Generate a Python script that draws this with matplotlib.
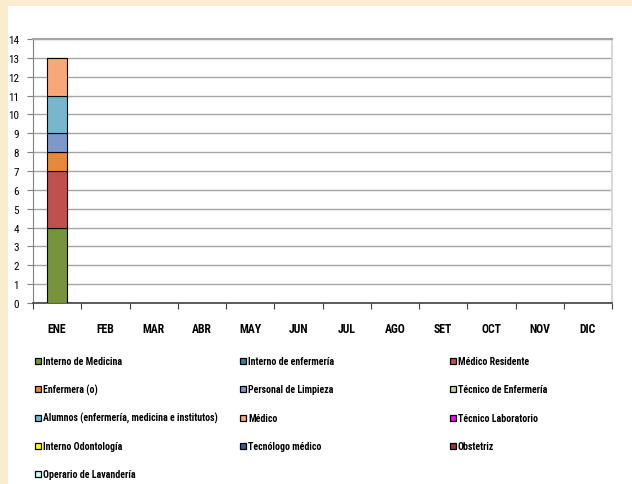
import numpy as np
import matplotlib.pyplot as plt
from matplotlib import font_manager
from matplotlib.patches import Rectangle

# -----------------------------
# data
# -----------------------------
months = ["ENE", "FEB", "MAR", "ABR", "MAY", "JUN", "JUL", "AGO", "SET", "OCT", "NOV", "DIC"]

categories = [
    "Interno de Medicina", "Interno de enfermería", "Médico Residente",
    "Enfermera (o)", "Personal de Limpieza", "Técnico de Enfermería",
    "Alumnos (enfermería, medicina e institutos)", "Médico", "Técnico Laboratorio",
    "Interno Odontología", "Tecnólogo médico", "Obstetriz",
    "Operario de Lavandería",
]

# one list per category, Jan..Dec
interno_medicina = [4, 0, 0, 0, 0, 0, 0, 0, 0, 0, 0, 0]
interno_enfermeria = [0, 0, 0, 0, 0, 0, 0, 0, 0, 0, 0, 0]
medico_residente = [3, 0, 0, 0, 0, 0, 0, 0, 0, 0, 0, 0]
enfermera = [1, 0, 0, 0, 0, 0, 0, 0, 0, 0, 0, 0]
personal_limpieza = [1, 0, 0, 0, 0, 0, 0, 0, 0, 0, 0, 0]
tecnico_enfermeria = [0, 0, 0, 0, 0, 0, 0, 0, 0, 0, 0, 0]
alumnos = [2, 0, 0, 0, 0, 0, 0, 0, 0, 0, 0, 0]
medico = [2, 0, 0, 0, 0, 0, 0, 0, 0, 0, 0, 0]
tecnico_laboratorio = [0, 0, 0, 0, 0, 0, 0, 0, 0, 0, 0, 0]
interno_odontologia = [0, 0, 0, 0, 0, 0, 0, 0, 0, 0, 0, 0]
tecnologo_medico = [0, 0, 0, 0, 0, 0, 0, 0, 0, 0, 0, 0]
obstetriz = [0, 0, 0, 0, 0, 0, 0, 0, 0, 0, 0, 0]
operario_lavanderia = [0, 0, 0, 0, 0, 0, 0, 0, 0, 0, 0, 0]

series = [
    interno_medicina, interno_enfermeria, medico_residente,
    enfermera, personal_limpieza, tecnico_enfermeria,
    alumnos, medico, tecnico_laboratorio,
    interno_odontologia, tecnologo_medico, obstetriz,
    operario_lavanderia,
]

colors = [
    "#77933C", "#31849B", "#C0504D",
    "#E8893A", "#7F98CC", "#C3D69B",
    "#78B6CE", "#F8A878", "#FF00FF",
    "#FFFF00", "#2F5F95", "#953735",
    "#CCFFFF",
]

y_ticks = list(range(0, 15))

# pick a narrow font if one is installed
installed = {f.name for f in font_manager.fontManager.ttflist}
narrow = None
for name in ["Liberation Sans Narrow", "DejaVu Sans Condensed", "Roboto Condensed"]:
    if name in installed:
        narrow = name
        break
if narrow is None:
    narrow = "Liberation Sans"
    scale = 0.86
else:
    scale = 1.0
font = [narrow, "DejaVu Sans"]

# -----------------------------
# figure
# -----------------------------
W, H = 632, 485
fig = plt.figure(figsize=(W / 100, H / 100), dpi=100, facecolor="#FBEBCF")
# white panel over the beige background
fig.patches.append(Rectangle((8 / W, 0), 1 - 8 / W, 1 - 7 / H, transform=fig.transFigure,
                             facecolor="white", edgecolor="none", zorder=-5))

ax = fig.add_axes([33 / W, 1 - 304 / H, (612 - 33) / W, (304 - 40) / H])
ax.set_facecolor("white")

x = np.arange(len(months))
bottom = np.zeros(len(months))
for vals, col in zip(series, colors):
    vals = np.array(vals, dtype=float)
    lws = [0.8 if v > 0 else 0 for v in vals]
    ax.bar(x, vals, width=0.42, bottom=bottom, color=col, edgecolor="black",
           linewidth=lws, zorder=3)
    bottom += vals

ax.set_xlim(-0.5, len(months) - 0.5)
ax.set_ylim(0, 14)
ax.set_yticks(y_ticks)
ax.set_yticklabels([str(t) for t in y_ticks], family=font, fontsize=8 * scale)

ax.set_xticks(x)
ax.set_xticklabels(months, family=font, fontsize=8.5 * scale, fontweight="bold")
ax.set_xticks(np.arange(-0.5, len(months)), minor=True)
ax.tick_params(axis="x", which="major", length=0, pad=14)
ax.tick_params(axis="x", which="minor", length=4, width=0.8, color="#404040", direction="out")
ax.tick_params(axis="y", length=4, width=0.8, color="#808080", pad=6)

ax.grid(axis="y", color="#A6A6A6", linewidth=1, zorder=0)
ax.set_axisbelow(True)
ax.spines["top"].set_color("#A6A6A6")
ax.spines["top"].set_linewidth(1.5)
ax.spines["right"].set_color("#D9D9D9")
ax.spines["right"].set_linewidth(1.5)
ax.spines["left"].set_color("#808080")
ax.spines["bottom"].set_color("#404040")
ax.spines["bottom"].set_linewidth(1.2)

# -----------------------------
# legend: entries laid out row-wise in three columns
# -----------------------------
col_x = [35, 240, 450]   # left edge of the colour box, px
row_y0, row_dy = 362, 28.3
box = 6
for i, (lab, col) in enumerate(zip(categories, colors)):
    r, c = divmod(i, 3)
    cx = col_x[c]
    cy = row_y0 + r * row_dy
    fig.patches.append(Rectangle((cx / W, 1 - (cy + box / 2) / H), box / W, box / H,
                                 transform=fig.transFigure, facecolor=col,
                                 edgecolor="black", linewidth=0.9))
    fig.text((cx + box + 2) / W, 1 - cy / H, lab, family=font, fontsize=7.1 * scale,
             fontweight="bold", ha="left", va="center")

fig.savefig("out.png", dpi=100, facecolor=fig.get_facecolor())
